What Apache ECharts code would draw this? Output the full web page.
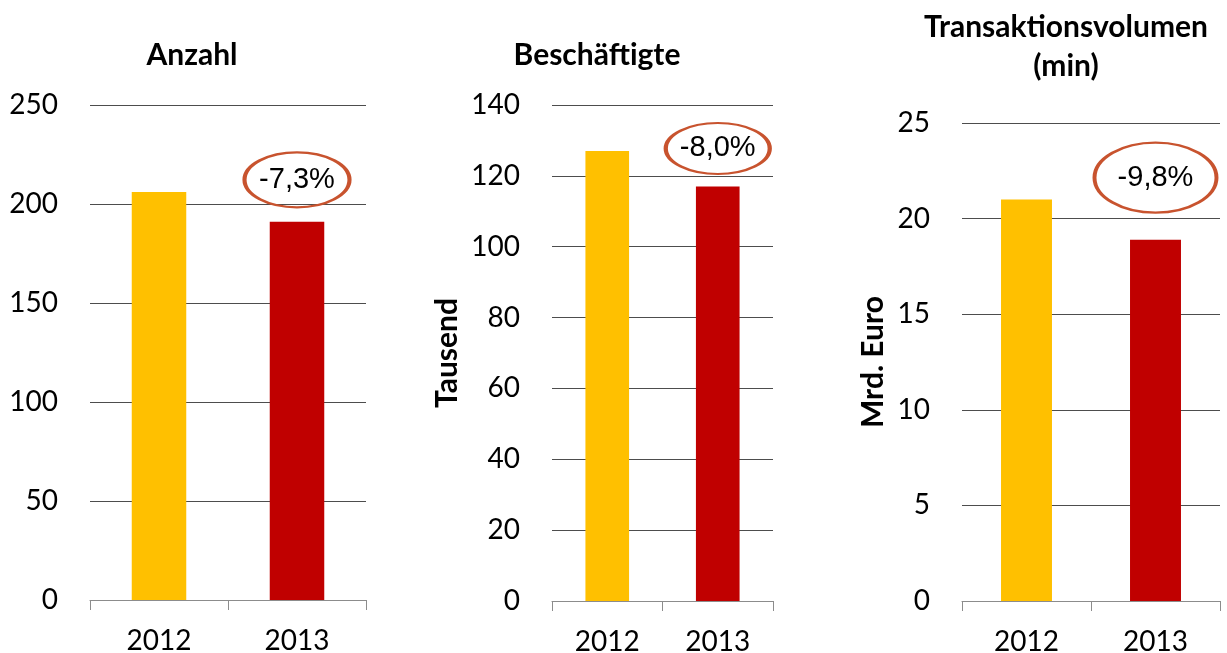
<!DOCTYPE html>
<html>
<head>
<meta charset="utf-8">
<script src="https://cdn.jsdelivr.net/npm/echarts@6/dist/echarts.min.js"></script>
<style>
html,body{margin:0;padding:0;background:#fff;}
#c{width:1227px;height:653px;}
</style>
</head>
<body>
<div id="c"></div>
<script>
const categories = ['2012', '2013'];
const anzahl = [206, 191];
const beschaeftigte = [127, 117];
const volumen = [21, 18.9];
const changeLabels = ['-7,3%', '-8,0%', '-9,8%'];
const titles = ['Anzahl', 'Beschäftigte', 'Transaktionsvolumen\n(min)'];
const axisNames = ['', 'Tausend', 'Mrd. Euro'];
const yMax = [250, 140, 25];
const yStep = [50, 20, 5];

const seriesValues = [anzahl, beschaeftigte, volumen];
const barColors = ['#FFC000', '#C00000'];
const FONT = 'Lato, "Open Sans", sans-serif';

const grids = [
  {left: 90, top: 105, width: 276, height: 495},
  {left: 552, top: 105, width: 221, height: 496},
  {left: 962, top: 123, width: 258, height: 478}
];
const nameGaps = [0, 90, 74];
const ellipseSizes = [[105, 55], [104, 51], [122, 70]];
const ellipseOffsets = [-42, -38, -62];
const titlePos = [[192, 55], [597, 55], [1066, 47]];

const chart = echarts.init(document.getElementById('c'), null, {renderer: 'canvas'});

const option = {
  animation: false,
  backgroundColor: '#fff',
  grid: grids.map(g => Object.assign({containLabel: false, outerBoundsMode: 'none'}, g)),
  xAxis: grids.map((g, i) => ({
    type: 'category',
    gridIndex: i,
    data: categories,
    boundaryGap: true,
    axisLine: {show: true, lineStyle: {color: '#8c8c8c', width: 1}},
    axisTick: {show: true, length: 10, interval: 0, lineStyle: {color: '#8c8c8c'}},
    axisLabel: {color: '#000', fontSize: 28, fontFamily: FONT, margin: 27, interval: 0},
    splitLine: {show: false}
  })),
  yAxis: grids.map((g, i) => ({
    type: 'value',
    gridIndex: i,
    min: 0,
    max: yMax[i],
    interval: yStep[i],
    name: axisNames[i],
    nameLocation: 'middle',
    nameGap: nameGaps[i],
    nameRotate: 90,
    nameTextStyle: {color: '#000', fontSize: 30, fontWeight: 'bold', fontFamily: FONT},
    axisLine: {show: false},
    axisTick: {show: false},
    axisLabel: {color: '#000', fontSize: 28, fontFamily: FONT, margin: 32},
    splitLine: {show: true, lineStyle: {color: '#4d4d4d', width: 1}}
  })),
  series: seriesValues.map((vals, i) => ({
    type: 'bar',
    xAxisIndex: i,
    yAxisIndex: i,
    barWidth: '39.5%',
    data: vals.map((v, j) => ({value: v, itemStyle: {color: barColors[j]}})),
    markPoint: {
      symbol: 'circle',
      symbolSize: ellipseSizes[i],
      symbolOffset: [0, ellipseOffsets[i]],
      itemStyle: {color: 'rgba(255,255,255,0)', borderColor: '#C8532E', borderWidth: 3},
      label: {
        show: true, position: 'inside', formatter: changeLabels[i],
        color: '#000', fontSize: 29, fontFamily: '"Liberation Sans", Arial, sans-serif'
      },
      data: [{coord: [1, vals[1]]}]
    }
  })),
  graphic: titles.map((t, i) => ({
    type: 'text',
    x: titlePos[i][0],
    y: titlePos[i][1],
    style: {
      text: t,
      align: 'center',
      verticalAlign: 'middle',
      fill: '#000',
      font: 'bold 30px Lato, "Open Sans", sans-serif',
      lineHeight: 39
    }
  }))
};
chart.setOption(option);
</script>
</body>
</html>
